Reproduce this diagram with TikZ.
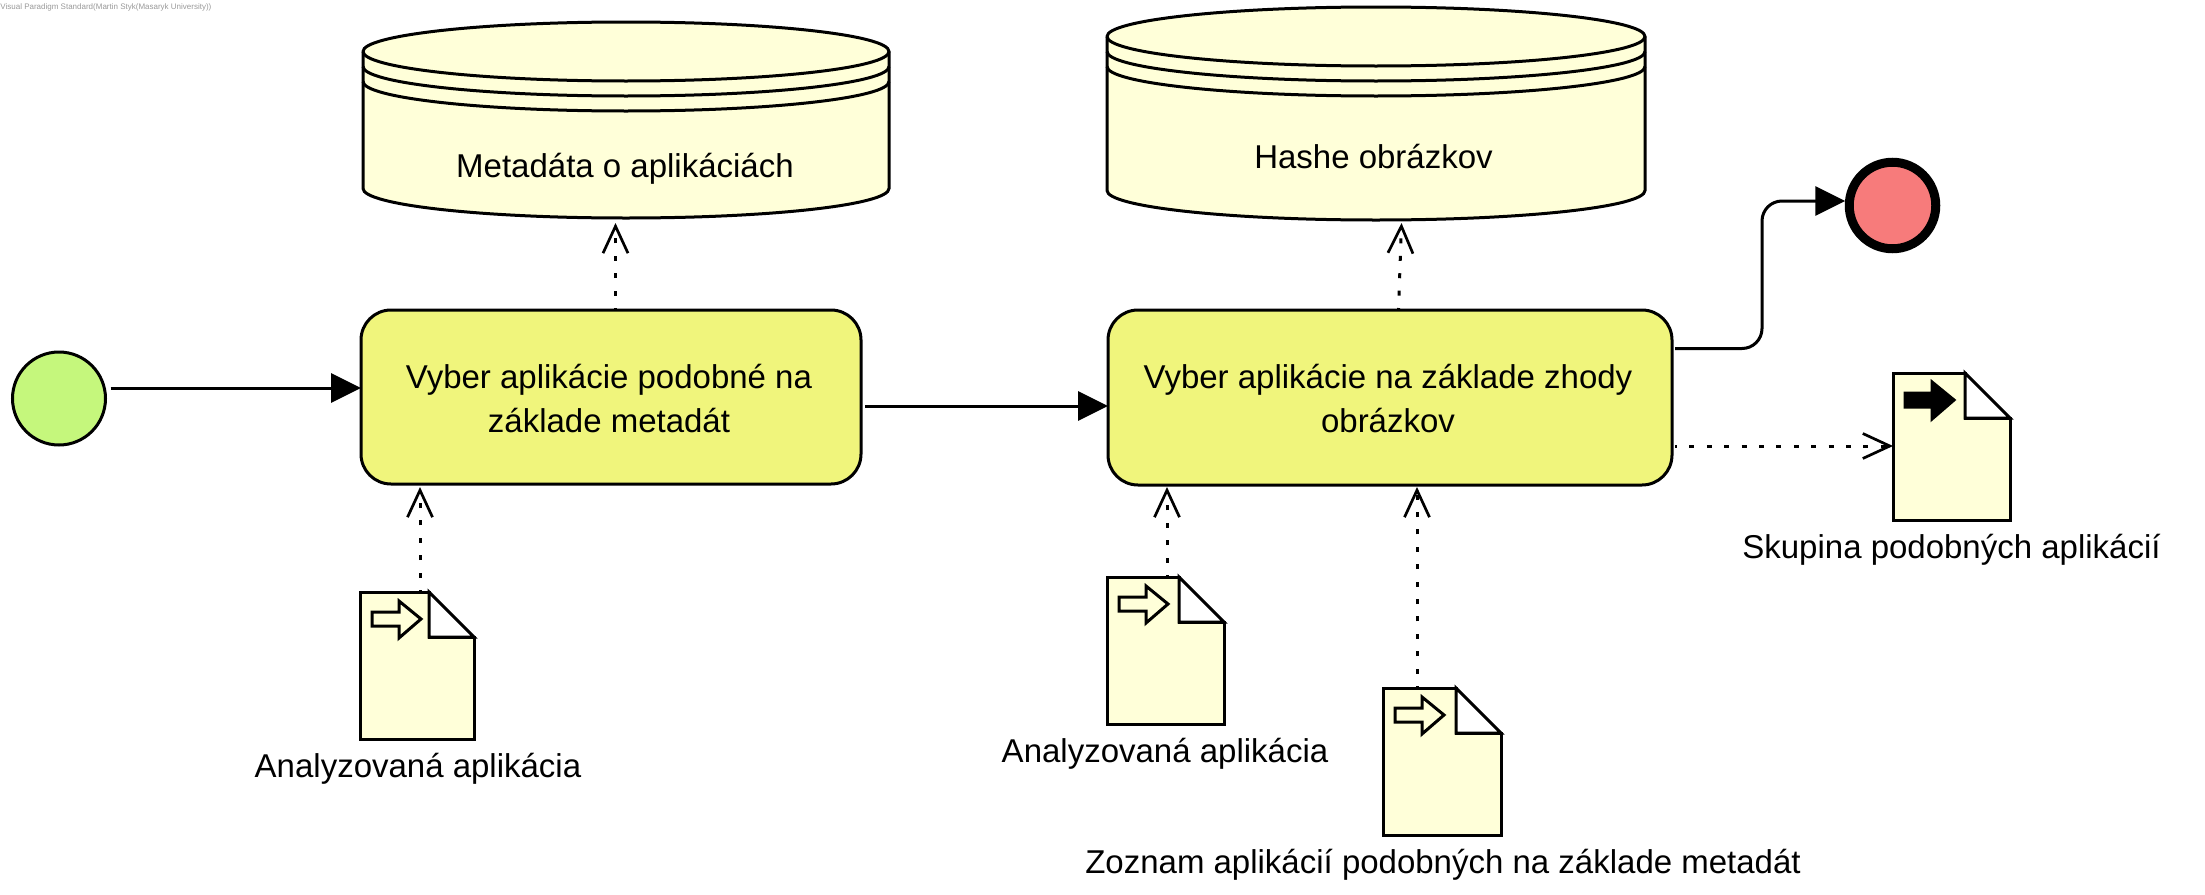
\documentclass[tikz,border=0pt]{standalone}
\usepackage{fontspec}
\setmainfont{Liberation Sans}
\usetikzlibrary{arrows.meta}
\definecolor{taskfill}{HTML}{F0F57C}
\definecolor{docfill}{HTML}{FFFFD9}
\definecolor{startfill}{HTML}{C5F77C}
\definecolor{endfill}{HTML}{F77B7B}
\tikzset{
  ln/.style={line width=1.5pt,draw=black},
  task/.style={ln,fill=taskfill,rounded corners=15pt,inner sep=0pt,outer sep=0pt,align=center,font=\fontsize{16.5}{22}\selectfont},
  flow/.style={ln,-{Triangle[length=15pt,width=14.5pt]},rounded corners=10pt},
  dep/.style={ln,dash pattern=on 2.5pt off 6.2pt,dash phase=1.5pt,-{Straight Barb[length=13.5pt,width=12.5pt,line width=1.35pt]}},
  lbl/.style={font=\fontsize{16.5}{22}\selectfont,anchor=base,inner sep=0pt},
  box/.style={inner sep=0pt,outer sep=0pt},
  event/.style={circle,inner sep=0pt,outer sep=0pt},
}
% \docshape{name}{left}{top}{right}{bottom}{foldx}{foldy}{arrow fill}
\newcommand{\docshape}[8]{%
  \draw[ln,fill=docfill,line join=miter] (#2,#3) -- (#6,#3) -- (#6,#7) -- (#4,#7) -- (#4,#5) -- (#2,#5) -- cycle;
  \draw[ln,fill=white,line join=miter] (#6,#3) -- (#4,#7) -- (#6,#7) -- cycle;
  \draw[ln,fill=#8,line join=miter] (#2+12,#3+20) -- (#2+39,#3+20) -- (#2+39,#3+9) -- (#2+61,#3+27) -- (#2+39,#3+46) -- (#2+39,#3+34) -- (#2+12,#3+34) -- cycle;
  \node[box,minimum width=0.5pt*(#4-#2),minimum height=0.5pt*(#5-#3)] (#1) at ({(#2+#4)/2},{(#3+#5)/2}) {};
}
% \dbshape{name}{left}{right}{top of ellipse}{ry}{height of side}
\newcommand{\dbshape}[6]{%
  \pgfmathsetmacro{\dbrx}{0.25*(#3-#2)}
  \pgfmathsetmacro{\dbry}{0.5*#5}
  \draw[ln,fill=docfill] (#2,#4+#5) -- (#2,#4+#5+#6) arc[start angle=180,end angle=360,x radius=\dbrx pt,y radius=\dbry pt] -- (#3,#4+#5) arc[start angle=0,end angle=180,x radius=\dbrx pt,y radius=\dbry pt] -- cycle;
  \draw[ln] (#2,#4+#5) arc[start angle=180,end angle=360,x radius=\dbrx pt,y radius=\dbry pt];
  \draw[ln] (#2,#4+#5+15) arc[start angle=180,end angle=360,x radius=\dbrx pt,y radius=\dbry pt];
  \draw[ln] (#2,#4+#5+30) arc[start angle=180,end angle=360,x radius=\dbrx pt,y radius=\dbry pt];
  \node[box,minimum width=0.5pt*(#3-#2),minimum height=0.5pt*(#5+#5+#6)] (#1) at ({(#2+#3)/2},{#4+#5+0.5*#6}) {};
}
\begin{document}
\begin{tikzpicture}[x=0.5pt,y=-0.5pt]
\useasboundingbox (0,0) rectangle (2205,894);
\node[anchor=west,inner sep=0pt,text=black!40,font=\fontsize{4}{5}\selectfont] (wm) at (0,7) {Visual Paradigm Standard(Martin Styk(Masaryk University))};

% data stores
\dbshape{db1}{363}{889}{22}{29.5}{137}
\dbshape{db2}{1107}{1645}{7}{29.5}{154}
\node[lbl] (db1t) at (625,177.5) {Metadáta o aplikáciách};
\node[lbl] (db2t) at (1373.5,168.5) {Hashe obrázkov};

% events
\node[event,ln,fill=startfill,minimum size=46.5pt] (start) at (59,398.5) {};
\node[event,draw=black,line width=4.5pt,fill=endfill,minimum size=43.25pt] (end) at (1892.5,205.5) {};

% tasks
\node[task,minimum width=250pt,minimum height=87pt] (t1) at (611,397) {\rule{0pt}{13.5pt}Vyber aplikácie podobné na\hspace*{2pt}\\základe metadát\hspace*{2pt}};
\node[task,minimum width=282pt,minimum height=87.5pt] (t2) at (1390,397.5) {\rule{0pt}{13.5pt}Vyber aplikácie na základe zhody\hspace*{2pt}\\obrázkov\hspace*{2pt}};

% data objects
\docshape{d1}{360}{592}{474}{739}{429}{637}{docfill}
\docshape{d2}{1107}{577}{1224}{724}{1179}{622}{docfill}
\docshape{d3}{1383}{688}{1501}{835}{1456}{733}{docfill}
\docshape{d4}{1893}{373}{2010}{520}{1965}{418}{black}
\node[lbl] (d1t) at (418,777) {Analyzovaná aplikácia};
\node[lbl] (d2t) at (1165,762) {Analyzovaná aplikácia};
\node[lbl] (d3t) at (1443,873) {Zoznam aplikácií podobných na základe metadát};
\node[lbl] (d4t) at (1951.5,558) {Skupina podobných aplikácií};

% sequence flows
\coordinate (bend) at (1762,274);
\draw[flow] ([xshift=2.5pt,yshift=5.25pt]start.east) -- ([yshift=4.5pt]t1.west);
\draw[flow] ([xshift=2pt,yshift=-4.5pt]t1.east) -- ([yshift=-4.25pt]t2.west);
\draw[flow] ([xshift=1.5pt,yshift=24.5pt]t2.east) -| (bend) |- ([xshift=-2pt,yshift=2.25pt]end.west);

% data associations
\draw[dep] ([xshift=2.25pt]t1.north) -- ([xshift=-5.25pt,yshift=-2.5pt]db1.south);
\draw[dep] ([xshift=4.25pt]t2.north) -- ([xshift=12.75pt,yshift=-1.5pt]db2.south);
\draw[dep] ([xshift=1.5pt,yshift=-24.25pt]t2.east) -- ([yshift=0.25pt]d4.west);
\draw[dep] ([xshift=1.5pt]d1.north) -- ([xshift=-95.5pt,yshift=-1.5pt]t1.south);
\draw[dep] ([xshift=0.75pt]d2.north) -- ([xshift=-111.5pt,yshift=-1pt]t2.south);
\draw[dep] ([xshift=-12.5pt]d3.north) -- ([xshift=13.5pt,yshift=-1pt]t2.south);
\end{tikzpicture}
\end{document}
